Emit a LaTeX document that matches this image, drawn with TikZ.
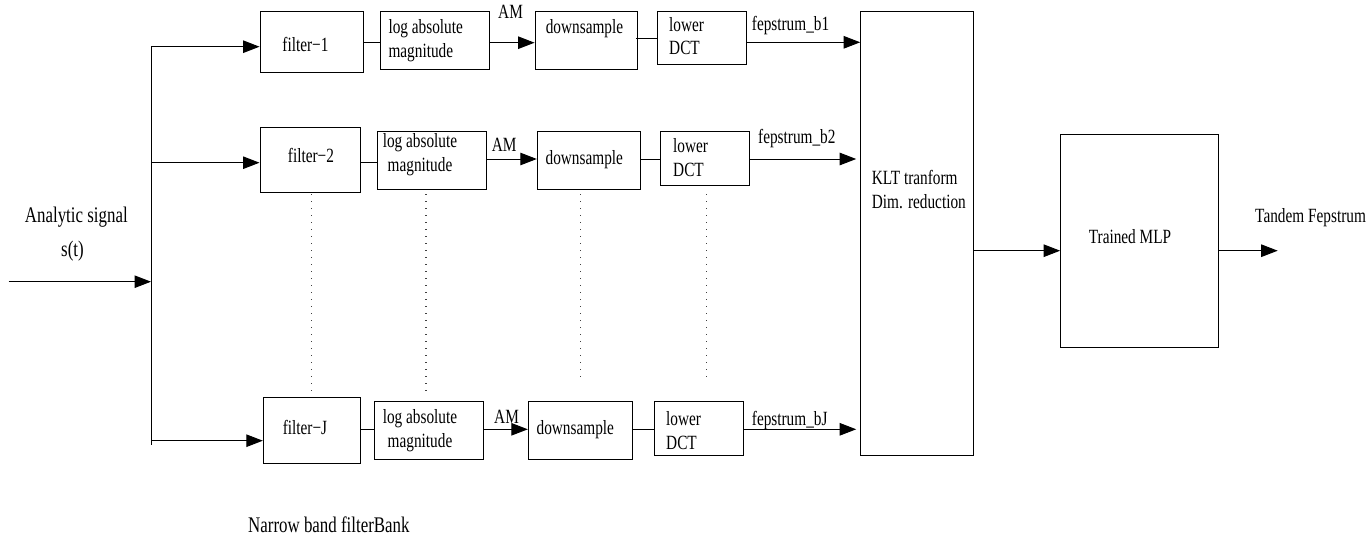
\documentclass[tikz,border=0pt]{standalone}
\usepackage{fontspec}
\setmainfont{Liberation Serif}
\usepackage{graphicx}
\usetikzlibrary{arrows.meta}
\newcommand\vs[1]{\scalebox{1}[1.32]{#1}}
\newcommand\vsl[1]{\scalebox{1}[1.32]{\begin{tabular}{@{}l@{}}#1\end{tabular}}}
\newcommand\vsc[1]{\scalebox{1}[1.32]{\begin{tabular}{@{}c@{}}#1\end{tabular}}}
\begin{document}
\begin{tikzpicture}[x=1pt,y=-1pt,
  box/.style={draw, line width=1pt, inner sep=0pt},
  txt/.style={inner sep=0pt, font=\fontsize{15.3}{18}\selectfont},
  bigtxt/.style={inner sep=0pt, font=\fontsize{16.9}{20}\selectfont},
  wire/.style={line width=1pt},
  arr/.style={line width=1pt, -{Triangle[length=16.5pt,width=12.5pt]}},
  dotline/.style={line width=1.1pt, black!75, dash pattern=on 1pt off 6pt}]
\useasboundingbox (0,0) rectangle (1369,535);

% boxes
\node[box, minimum width=103.3pt, minimum height=61pt]   (f1)  at (311.7,42.2) {};
\node[box, minimum width=109.3pt, minimum height=57.6pt] (la1) at (434.7,40.5) {};
\node[box, minimum width=102.3pt, minimum height=57.6pt] (ds1) at (586.2,40.5) {};
\node[box, minimum width=89pt,    minimum height=53.3pt] (dc1) at (702.2,38.3) {};

\node[box, minimum width=100pt,   minimum height=65pt]   (f2)  at (310,160.2) {};
\node[box, minimum width=109pt,   minimum height=58pt]   (la2) at (432.2,160) {};
\node[box, minimum width=103.4pt, minimum height=58pt]   (ds2) at (589,160) {};
\node[box, minimum width=89.3pt,  minimum height=54pt]   (dc2) at (704.7,158) {};

\node[box, minimum width=97.4pt,  minimum height=66.3pt] (fJ)  at (312,430.8) {};
\node[box, minimum width=109pt,   minimum height=58.3pt] (laJ) at (428.8,430.8) {};
\node[box, minimum width=104pt,   minimum height=58.3pt] (dsJ) at (580.3,430.8) {};
\node[box, minimum width=89pt,    minimum height=54.3pt] (dcJ) at (698.8,428.8) {};

\node[box, minimum width=112.6pt, minimum height=444pt]  (klt) at (917,233.7) {};
\node[box, minimum width=158.3pt, minimum height=212.7pt] (mlp) at (1139.8,241.3) {};

% box texts
\node[txt] (tf1)  at (305.5,44) {\vs{filter−1}};
\node[txt, anchor=west] (tla1) at (388.3,40.5) {\vsl{log absolute\\magnitude}};
\node[txt] (tds1) at (584.5,29) {\vs{downsample}};
\node[txt, anchor=west] (tdc1) at (669,38.3) {\vsl{lower\\DCT}};

\node[txt] (tf2)  at (311,155) {\vs{filter−2}};
\node[txt] (tla2) at (420,155) {\vsc{log absolute\\magnitude}};
\node[txt] (tds2) at (584.3,160) {\vs{downsample}};
\node[txt, anchor=west] (tdc2) at (673,159.5) {\vsl{lower\\DCT}};

\node[txt] (tfJ)  at (305,427.5) {\vs{filter−J}};
\node[txt] (tlaJ) at (420,431) {\vsc{log absolute\\magnitude}};
\node[txt] (tdsJ) at (575.3,430) {\vs{downsample}};
\node[txt, anchor=west] (tdcJ) at (666,433) {\vsl{lower\\DCT}};

\node[txt, anchor=west] (tklt) at (871.7,191.7) {\vsl{KLT tranform\\Dim. reduction}};
\node[txt] (tmlp) at (1130,236.7) {\vs{Trained MLP}};

% free labels
\node[txt, anchor=base west] (am1) at (498,19) {\vs{AM}};
\node[txt, anchor=base west] (am2) at (491.7,151.5) {\vs{AM}};
\node[txt, anchor=base west] (amJ) at (494,423.5) {\vs{AM}};
\node[txt, anchor=base west] (fb1) at (751.7,30.5) {\vs{fepstrum\_b1}};
\node[txt, anchor=base west] (fb2) at (758,143) {\vs{fepstrum\_b2}};
\node[txt, anchor=base west] (fbJ) at (751.7,425) {\vs{fepstrum\_bJ}};
\node[txt, anchor=base west] (tand) at (1255,222) {\vs{Tandem Fepstrum}};
\node[bigtxt, anchor=base] (asig) at (76.3,222.5) {\vs{Analytic signal}};
\node[bigtxt, anchor=base] (sig) at (72.5,256) {\vs{s(t)}};
\node[bigtxt, anchor=base west] (nbf) at (248,532.5) {\vs{Narrow band filterBank}};

% coordinates
\coordinate (in)  at (8.7,281.7);
\coordinate (bIn) at (151,281.7);
\coordinate (b1)  at (151,46.7);
\coordinate (b2)  at (151,162.7);
\coordinate (bJ)  at (151,440.7);
\coordinate (bEnd) at (151,445);
\coordinate (r1a) at (0,42.3);
\coordinate (r1b) at (0,42.7);
\coordinate (r1c) at (0,38.3);
\coordinate (r2a) at (0,162.3);
\coordinate (r2b) at (0,159);
\coordinate (rJa) at (0,429);
\coordinate (rJb) at (0,429.3);
\coordinate (mm)  at (0,250.7);
\coordinate (out) at (1277.7,250.7);

% input and bus
\draw[arr] (in) -- (bIn);
\draw[wire] (b1) -- (bEnd);
\draw[arr] (b1) -- (b1 -| f1.west);
\draw[arr] (b2) -- (b2 -| f2.west);
\draw[arr] (bJ) -- (bJ -| fJ.west);

% row 1
\draw[wire] (f1.east |- r1a) -- (la1.west |- r1a);
\draw[arr]  (la1.east |- r1b) -- (ds1.west |- r1b);
\draw[wire] ([xshift=-2pt]ds1.east |- r1c) -- (dc1.west |- r1c);
\draw[arr]  (dc1.east |- r1a) -- (klt.west |- r1a);

% row 2
\draw[wire] (f2.east |- r2a) -- (la2.west |- r2a);
\draw[arr]  (la2.east |- r2b) -- (ds2.west |- r2b);
\draw[wire] (ds2.east |- r2b) -- (dc2.west |- r2b);
\draw[arr]  (dc2.east |- r2b) -- ([xshift=-4pt]klt.west |- r2b);

% row J
\draw[wire] (fJ.east |- rJa) -- (laJ.west |- rJa);
\draw[arr]  (laJ.east |- rJb) -- (dsJ.west |- rJb);
\draw[wire] (dsJ.east |- rJb) -- (dcJ.west |- rJb);
\draw[arr]  (dcJ.east |- rJb) -- ([xshift=-4pt]klt.west |- rJb);

% KLT -> MLP -> out
\draw[arr] (klt.east |- mm) -- (mlp.west |- mm);
\draw[arr] (mlp.east |- mm) -- (out);

% dotted continuation lines
\coordinate (d1t) at (311.7,194); \coordinate (d1b) at (311.7,394);
\coordinate (d2t) at (426,194);   \coordinate (d2b) at (426,394);
\coordinate (d3t) at (580.7,194); \coordinate (d3b) at (580.7,381);
\coordinate (d4t) at (706.7,194); \coordinate (d4b) at (706.7,381);
\draw[dotline] (d1t) -- (d1b);
\draw[dotline] (d2t) -- (d2b);
\draw[dotline] (d3t) -- (d3b);
\draw[dotline] (d4t) -- (d4b);
\end{tikzpicture}
\end{document}
